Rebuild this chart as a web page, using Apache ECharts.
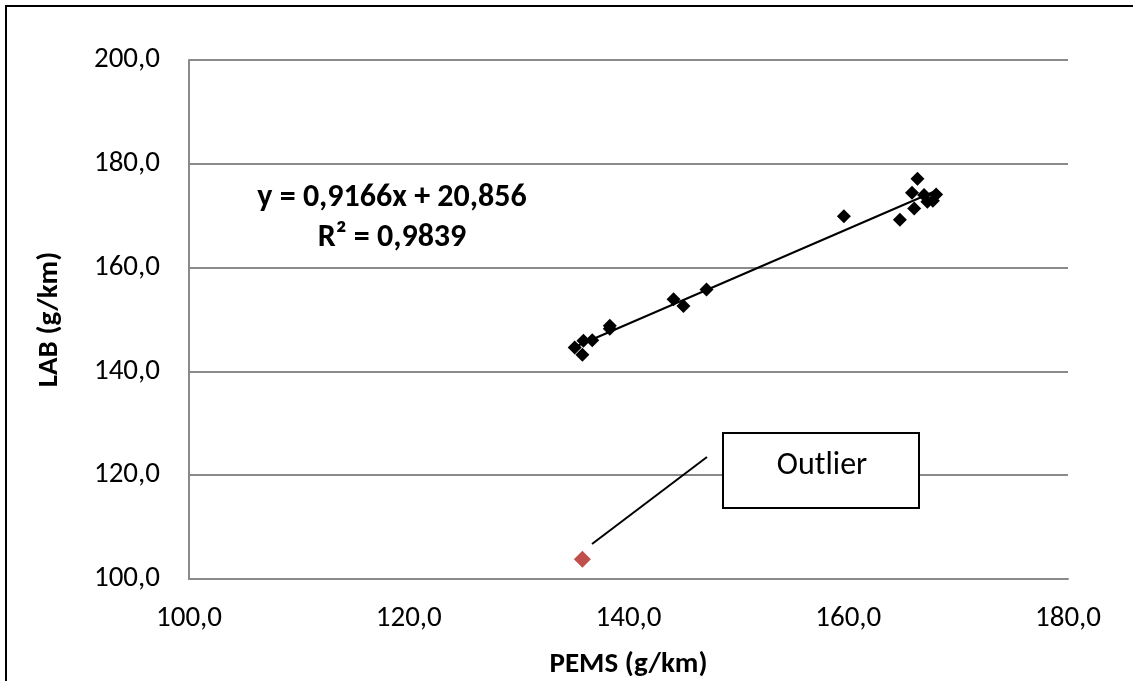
<!DOCTYPE html>
<html><head><meta charset="utf-8">
<script src="https://cdn.jsdelivr.net/npm/echarts@6/dist/echarts.min.js"></script>
<style>html,body{margin:0;padding:0;background:#fff}#c{width:1133px;height:681px}</style>
</head><body><div id="c"></div>
<script>
// PEMS (x) vs LAB (y), g/km
const pemsValues = [135.1, 135.9, 136.7, 135.8, 138.3, 138.3, 144.1, 145.0, 147.1,
                    159.6, 166.3, 165.8, 166.0, 164.7, 166.9, 167.2, 168.0, 167.7];
const labValues  = [144.6, 145.9, 146.0, 143.2, 148.8, 148.2, 153.9, 152.6, 155.8,
                    169.9, 177.1, 174.4, 171.4, 169.2, 174.0, 172.7, 174.1, 172.9];
const outlierPems = [135.8];
const outlierLab  = [103.8];
// linear trendline endpoints
const trendX = [135.1, 168.0];
const trendY = [144.7, 174.8];
const xTicks = [100, 120, 140, 160, 180];
const yTicks = [100, 120, 140, 160, 180, 200];
const xTitle = 'PEMS (g/km)';
const yTitle = 'LAB (g/km)';
const eqLine1 = 'y = 0,9166x + 20,856';
const eqLine2 = 'R² = 0,9839';
const calloutText = 'Outlier';

const FONT = 'Carlito, Lato, "Open Sans", sans-serif';
const fmt = v => v.toFixed(1).replace('.', ',');

const chart = echarts.init(document.getElementById('c'), null, {renderer: 'canvas'});
const mainData = pemsValues.map((x, i) => [x, labValues[i]]);
const outData = outlierPems.map((x, i) => [x, outlierLab[i]]);
const trendData = trendX.map((x, i) => [x, trendY[i]]);

chart.setOption({
  animation: false,
  backgroundColor: '#fff',
  grid: {left: 189, top: 60, right: 65, bottom: 102, containLabel: false, outerBoundsMode: 'none'},
  xAxis: {
    type: 'value', min: xTicks[0], max: xTicks[xTicks.length - 1], interval: 20,
    axisLine: {show: true, lineStyle: {color: '#8a8a8a', width: 2}},
    axisTick: {show: false},
    splitLine: {show: false},
    axisLabel: {formatter: fmt, color: '#000', fontFamily: FONT, fontSize: 29, margin: 25},
    name: xTitle, nameLocation: 'middle', nameGap: 71,
    nameTextStyle: {color: '#000', fontFamily: FONT, fontSize: 29, fontWeight: 'bold'}
  },
  yAxis: {
    type: 'value', min: yTicks[0], max: yTicks[yTicks.length - 1], interval: 20,
    axisLine: {show: true, lineStyle: {color: '#8a8a8a', width: 2}},
    axisTick: {show: false},
    splitLine: {show: true, lineStyle: {color: '#8a8a8a', width: 2}},
    axisLabel: {formatter: fmt, color: '#000', fontFamily: FONT, fontSize: 29, margin: 29},
    name: yTitle, nameLocation: 'middle', nameGap: 125, nameRotate: 90,
    nameTextStyle: {color: '#000', fontFamily: FONT, fontSize: 29, fontWeight: 'bold'}
  },
  series: [
    {type: 'line', data: trendData, symbol: 'none', lineStyle: {color: '#000', width: 2}, z: 2},
    {type: 'scatter', data: mainData, symbol: 'diamond', symbolSize: 14, itemStyle: {color: '#000', opacity: 1}, z: 3},
    {type: 'scatter', data: outData, symbol: 'diamond', symbolSize: 17, itemStyle: {color: '#C0504D', opacity: 1}, z: 3}
  ],
  graphic: [
    {type: 'rect', z: 100, shape: {x: 6, y: 6, width: 1200, height: 800}, style: {fill: 'none', stroke: '#000', lineWidth: 2}, silent: true},
    {type: 'text', z: 100, x: 392, y: 198, style: {text: eqLine1, font: 'bold 32px ' + FONT, fill: '#000', align: 'center', verticalAlign: 'middle'}},
    {type: 'text', z: 100, x: 392, y: 238, style: {text: eqLine2, font: 'bold 32px ' + FONT, fill: '#000', align: 'center', verticalAlign: 'middle'}},
    {type: 'line', z: 100, shape: {x1: 592, y1: 544, x2: 707, y2: 457}, style: {stroke: '#000', lineWidth: 2}},
    {type: 'rect', z: 100, shape: {x: 723, y: 433, width: 196, height: 75}, style: {fill: '#fff', stroke: '#000', lineWidth: 2}},
    {type: 'text', z: 101, x: 822, y: 466, style: {text: calloutText, font: '32px ' + FONT, fill: '#000', align: 'center', verticalAlign: 'middle'}}
  ]
});
</script></body></html>
